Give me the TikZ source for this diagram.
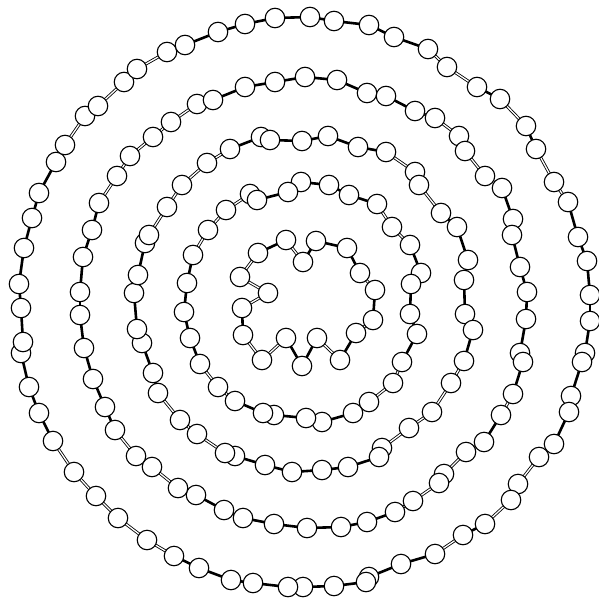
\documentclass[tikz,border=0pt]{standalone}
\pgfdeclarelayer{bondlayer}
\pgfsetlayers{bondlayer,main}
\tikzset{
  atom/.style={circle,draw=black,fill=white,line width=1.1pt,minimum size=19.5pt,inner sep=0pt},
  S/.style={line width=2.6pt,black},
  D/.style={line width=0.85pt,draw=black,double=white,double distance=1.3pt},
}
\newcommand\mkring[4]{%
  \foreach [count=\i] \x/\y in {#3} {\node[atom] (#1\i) at (\x,\y) {};}
  \begin{pgfonlayer}{bondlayer}
  \foreach [count=\i] \t in {#4} {
    \pgfmathtruncatemacro\j{mod(\i,#2)+1}
    \draw[\t] (#1\i.center) -- (#1\j.center);
  }
  \end{pgfonlayer}
}
\begin{document}
\begin{tikzpicture}[x=1pt,y=-1pt]
\begin{pgfonlayer}{bondlayer}
\fill[white] (0,0) rectangle (599,597);
\end{pgfonlayer}
\useasboundingbox (0,0) rectangle (599,597);
% ring 1 (outer)
\mkring{A}{62}{310/17,334/21,369/25,394/37,428/49,447/67,477/87,500/99,526/126,536/149,554/182,568/202,578/237,587/261,590/295,590/321,585/353,582/362,571/396,569/412,554/444,539/457,518/484,511/500,485/524,463/535,435/554,401/564,369/577,366/582,334/586,303/587,288/587,253/583,231/580,199/568,174/556,147/540,118/518,96/496,74/472,53/441,39/413,29/387,21/353,23/342,21/308,19/284,24/248,32/218,39/193,56/162,65/145,85/116,98/106,124/82,137/69,167/52,185/45,218/32,245/24,275/18}
{S,S,S,S,D,D,S,D,S,D,D,S,S,S,S,S,S,S,S,S,D,D,S,D,S,D,S,S,S,S,S,S,S,S,S,S,D,D,D,D,D,S,S,S,S,S,S,S,S,S,S,S,D,S,D,S,D,S,S,S,S,S}
% ring 2
\mkring{B}{52}{305/77,337/80,367/93,386/96,415/111,435/118,459/136,465/151,485/176,502/188,513/219,512/235,520/267,527/292,526/319,520/353,523/362,513/394,501/415,484/442,466/452,444/474,439/483,413/501,395/512,367/522,341/527,307/528,274/524,243/518,224/510,196/495,178/488,152/467,136/456,115/430,105/407,93/379,84/348,80/315,80/292,83/257,92/230,99/203,117/176,130/156,153/137,171/122,197/104,213/100,245/87,275/82}
{S,S,S,S,S,D,S,D,D,S,S,S,S,S,S,S,S,D,S,D,D,S,D,D,S,S,S,S,S,S,S,S,D,D,D,S,S,S,S,S,S,S,S,D,D,D,D,D,S,S,S,S}
% ring 3
\mkring{C}{40}{302/141,328/136,358/147,386/152,415/172,419/185,441/213,457/227,468/260,464/280,465/314,473/330,464/361,451/383,432/412,409/428,382/448,379/457,348/467,322/470,292/472,265/465,235/456,225/453,197/434,180/420,158/393,153/373,142/343,137/329,134/293,138/275,145/243,149/235,167/207,182/185,207/163,230/149,261/137,270/140}
{S,S,S,D,S,D,S,S,S,S,S,S,D,D,D,D,S,S,S,S,S,S,S,D,D,D,S,S,S,S,S,S,S,D,D,D,D,S,S,S}
% ring 4
\mkring{E}{30}{301/182,329/185,349/195,377/204,392/227,410/245,421/273,411/284,410/314,417/334,402/362,393/383,369/402,353/413,322/422,306/418,274/415,263/413,235/401,218/387,200/364,190/338,184/312,187/283,193/255,208/230,226/210,250/194,257/200,288/192}
{S,S,S,D,D,S,S,S,S,S,D,D,D,S,S,S,S,S,D,D,S,S,S,S,D,D,D,S,S,S}
% inner molecule
\mkring{F}{18}{286/240,303/262,316/241,347/248,360/273,375/290,373/320,356/333,340/360,317/338,302/366,286/338,262/360,243/335,242/308,268/293,240/277,258/253}
{D,S,S,S,D,S,D,S,D,S,S,D,D,S,D,D,D,S}
\end{tikzpicture}
\end{document}
